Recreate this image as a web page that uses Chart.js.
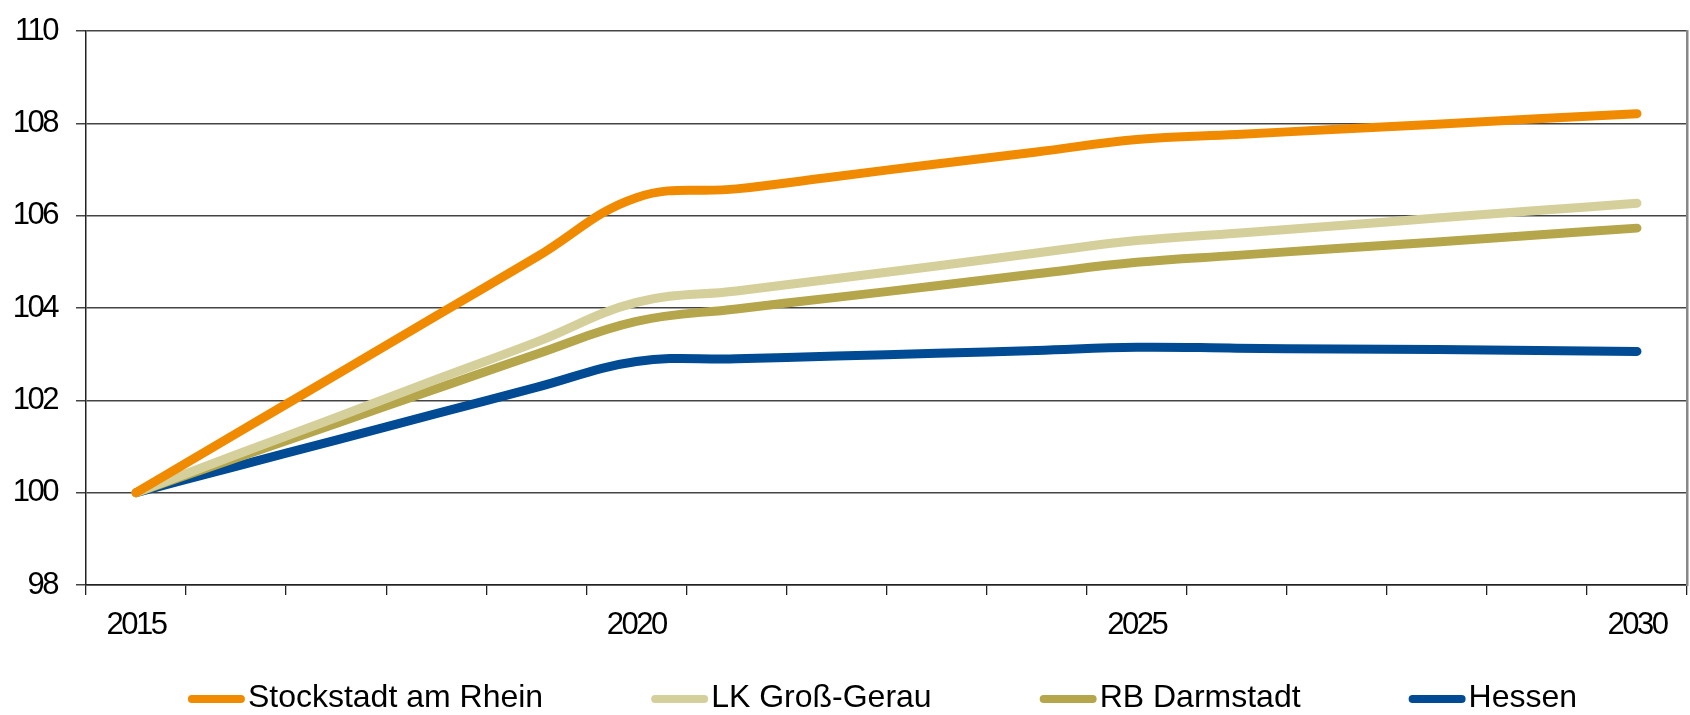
<!DOCTYPE html>
<html><head><meta charset="utf-8">
<script src="https://cdn.jsdelivr.net/npm/chart.js@4.4.1/dist/chart.umd.min.js"></script>
<style>html,body{margin:0;padding:0;background:#fff;overflow:hidden}#wrap{width:1690px;height:715px;position:relative}</style>
</head><body><div id="wrap"><canvas id="c" width="1690" height="715"></canvas></div>
<script>
const years = ['2015','2016','2017','2018','2019','2020','2021','2022','2023','2024','2025','2026','2027','2028','2029','2030'];
const tickLabels = ['2015','2020','2025','2030'];
const yTicks = [98, 100, 102, 104, 106, 108, 110];
const stockstadt = [100, 101.28, 102.55, 103.83, 105.1, 106.39, 106.58, 106.85, 107.12, 107.38, 107.65, 107.76, 107.87, 107.98, 108.1, 108.21];
const grossGerau = [100, 100.82, 101.63, 102.45, 103.26, 104.12, 104.37, 104.64, 104.91, 105.19, 105.46, 105.62, 105.78, 105.95, 106.11, 106.27];
const darmstadt  = [100, 100.75, 101.5, 102.25, 103.0, 103.71, 103.98, 104.23, 104.48, 104.74, 104.99, 105.14, 105.29, 105.43, 105.58, 105.73];
const hessen     = [100, 100.57, 101.14, 101.71, 102.28, 102.84, 102.9, 102.96, 103.02, 103.08, 103.15, 103.13, 103.11, 103.1, 103.08, 103.06];
const seriesNames = ['Stockstadt am Rhein', 'LK Groß-Gerau', 'RB Darmstadt', 'Hessen'];
const colors = ['#F08A00', '#D5CF9B', '#B5A64B', '#004B93'];

const tickFont = {family: "'Liberation Sans', Arial, sans-serif", size: 31};
const legendFontStr = "32px 'Liberation Sans', Arial, sans-serif";

const narrowPlugin = {
  id: 'narrowTicks',
  beforeLayout(chart) { try { chart.ctx.letterSpacing = '-2.5px'; } catch (e) {} },
  beforeDraw(chart) { try { chart.ctx.letterSpacing = '-2.5px'; } catch (e) {} }
};

const legendPlugin = {
  id: 'customLegend',
  afterDraw(chart) {
    const ctx = chart.ctx;
    const ca = chart.chartArea;
    ctx.save();
    try { ctx.letterSpacing = '0px'; } catch (e) {}
    ctx.font = legendFontStr;
    const sw = 57, gapText = 3, gapItem = 108;
    const items = chart.data.datasets.map(d => ({label: d.label, color: d.borderColor, w: ctx.measureText(d.label).width}));
    let total = 0;
    items.forEach((it, i) => { total += sw + gapText + it.w + (i < items.length - 1 ? gapItem : 0); });
    let x = (ca.left + ca.right) / 2 - 4 - total / 2;
    const yLine = 699, yText = 707;
    items.forEach(it => {
      ctx.strokeStyle = it.color;
      ctx.lineWidth = 8;
      ctx.lineCap = 'round';
      ctx.beginPath();
      ctx.moveTo(x + 4, yLine);
      ctx.lineTo(x + sw - 4, yLine);
      ctx.stroke();
      ctx.fillStyle = '#000';
      ctx.textBaseline = 'alphabetic';
      ctx.textAlign = 'left';
      ctx.fillText(it.label, x + sw + gapText, yText);
      x += sw + gapText + it.w + gapItem;
    });
    ctx.restore();
  }
};

const mk = (i, data) => ({
  label: seriesNames[i], data, borderColor: colors[i], backgroundColor: colors[i],
  borderWidth: 9, borderCapStyle: 'round', borderJoinStyle: 'round',
  pointRadius: 0, pointHoverRadius: 0, tension: 0.4, fill: false
});

const zeroPad = s => { s.paddingTop = 0; s.paddingBottom = 0; s.paddingLeft = 0; s.paddingRight = 0; };

new Chart(document.getElementById('c'), {
  type: 'line',
  data: {
    labels: years,
    datasets: [mk(0, stockstadt), mk(1, grossGerau), mk(2, darmstadt), mk(3, hessen)]
  },
  options: {
    responsive: false, animation: false, devicePixelRatio: 1,
    layout: {padding: {left: 0, right: 3, top: 31, bottom: 70}},
    plugins: {legend: {display: false}, tooltip: {enabled: false}},
    scales: {
      x: {
        type: 'category', offset: true,
        grid: {offset: true, drawOnChartArea: false, tickLength: 10, color: '#222', lineWidth: 1.3},
        border: {color: '#222', width: 1.5},
        ticks: {autoSkip: false, maxRotation: 0, minRotation: 0, padding: 12, font: tickFont, color: '#000',
          callback: (v, i) => tickLabels.includes(years[i]) ? years[i] : ''},
        afterFit: s => { s.height = 60; zeroPad(s); }
      },
      y: {
        min: yTicks[0], max: yTicks[yTicks.length - 1],
        afterBuildTicks: s => { s.ticks = yTicks.map(v => ({value: v})); },
        grid: {tickLength: 10, color: '#444', lineWidth: 1.5},
        border: {color: '#222', width: 1.5},
        ticks: {padding: 19, font: tickFont, color: '#000'},
        afterFit: s => { s.width = 86; zeroPad(s); }
      },
      y2: {
        position: 'right', min: 0, max: 1,
        grid: {drawOnChartArea: false, drawTicks: false},
        border: {color: '#888', width: 2.5},
        ticks: {display: false},
        afterFit: s => { s.width = 0; zeroPad(s); }
      }
    }
  },
  plugins: [narrowPlugin, legendPlugin]
});
</script></body></html>
